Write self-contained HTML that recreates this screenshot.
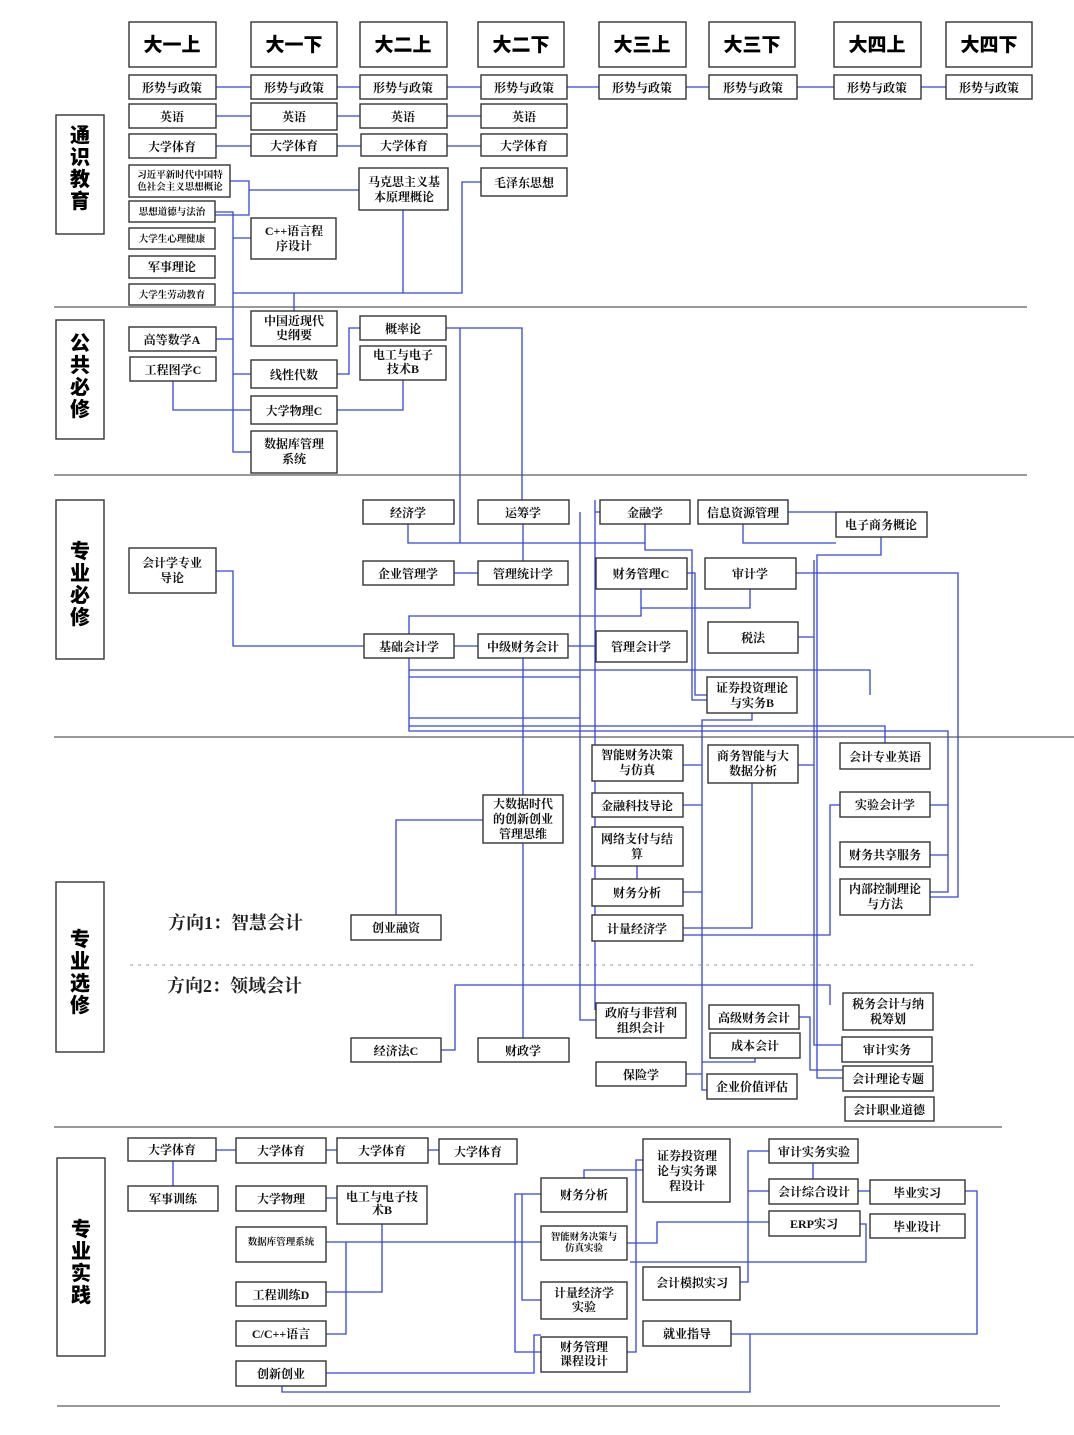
<!DOCTYPE html>
<html><head><meta charset="utf-8"><style>
html,body{margin:0;padding:0;background:#fff;}
svg{display:block}
.b{fill:#fff;stroke:#333;stroke-width:1.4}
.t{font-family:"Liberation Serif","Noto Serif CJK SC",serif;font-size:12px;font-weight:700;fill:#111;text-anchor:middle}
.s{font-size:9.5px}
.h{font-family:"Liberation Sans","Noto Sans CJK SC",sans-serif;font-size:19px;font-weight:900;fill:#000;text-anchor:middle}
.c{font-family:"Liberation Sans","Noto Sans CJK SC",sans-serif;font-size:20px;font-weight:900;fill:#000;text-anchor:middle}
.d{font-family:"Liberation Serif","Noto Serif CJK SC",serif;font-size:18px;font-weight:700;fill:#222}
.l{fill:none;stroke:#3344dd;stroke-width:1.3}
.g{stroke:#333;stroke-width:1}
</style></head><body>
<svg width="1074" height="1435" viewBox="0 0 1074 1435" xmlns="http://www.w3.org/2000/svg">
<line class="g" x1="54" y1="307" x2="1027" y2="307"/>
<line class="g" x1="54" y1="475" x2="1027" y2="475"/>
<line class="g" x1="54" y1="737" x2="1074" y2="737"/>
<line class="g" x1="54" y1="1127" x2="1002" y2="1127"/>
<line class="g" x1="57" y1="1406" x2="1000" y2="1406" stroke="#888" stroke-width="1.5"/>
<line x1="130" y1="965" x2="975" y2="965" stroke="#999" stroke-dasharray="3,5"/>

<g class="l">
<path d="M216 87H251M337 87H360M447 87H481M567 87H599M686 87H709M797 87H834M921 87H946"/>
<path d="M216 116H251M337 116H360M447 116H481"/>
<path d="M216 146H251M337 146H361M447 146H481"/>
<path d="M230 181H249V215H215M249 190H359"/>
<path d="M215 212H233V452H251M233 238H251M233 293H462V182H481M403 210V293M294 293V311"/>
<path d="M216 339H233M233 374H251M173 381V410H251M337 374H349V328H360M403 380V410H337"/>
<path d="M446 328H522V500M460 328V543M408 524V543H645V524M645 543V550H692V700H707"/>
<path d="M523 524V561M454 573H478M216 571H233V646H364M454 646H478M568 646H596"/>
<path d="M409 634V616H641V589M750 589V608H641M687 573H695V695H707"/>
<path d="M796 573H958V897H930M881 537V555H817V1078H843M788 512H836M743 524V543H836"/>
<path d="M409 658V731H948V892H930M948 805H930M948 855H930M409 670H870V695M409 677H580M409 726H885V743M409 718H580M523 658V795M523 843V1038M580 512V1020H596M595 500V1010M600 512H595"/>
<path d="M752 713V720H702V1090H707M814 560V1045H842M798 637H814M798 765H814M683 765H702M683 805H702M683 892H702M683 928H702M752 783V928H683"/>
<path d="M840 805H830V935H683M637 866V880M799 1017H810V1070H843M755 1058V1062H702M686 1074H702M595 985H830V1005M441 1050H455V985H595M396 915V820H483M523 985H595"/>
<path d="M216 1150H236M326 1150H337M428 1150H439M173 1161V1186M326 1198H337"/>
<path d="M326 1242H541M382 1224V1292H326M326 1334H346V1242"/>
<path d="M541 1194H515V1352H541M522 1194V1300H541M584 1178V1170H643V1160"/>
<path d="M627 1243H657V1222H769M740 1282H748V1151H769M748 1191H769M858 1191H870M965 1191H977V1334H731"/>
<path d="M750 1334V1392H282V1386M326 1373H534V1335H541M858 1224H866V1262H630M627 1352H636V1160H643M813 1163V1179"/>
</g>

<g>
<rect class="b" x="129" y="22" width="87" height="45"/><text class="h" x="172" y="51">大一上</text>
<rect class="b" x="251" y="22" width="86" height="45"/><text class="h" x="294" y="51">大一下</text>
<rect class="b" x="360" y="22" width="87" height="45"/><text class="h" x="403" y="51">大二上</text>
<rect class="b" x="478" y="22" width="86" height="45"/><text class="h" x="521" y="51">大二下</text>
<rect class="b" x="599" y="22" width="87" height="45"/><text class="h" x="642" y="51">大三上</text>
<rect class="b" x="709" y="22" width="86" height="45"/><text class="h" x="752" y="51">大三下</text>
<rect class="b" x="834" y="22" width="87" height="45"/><text class="h" x="877" y="51">大四上</text>
<rect class="b" x="946" y="22" width="86" height="45"/><text class="h" x="989" y="51">大四下</text>
</g>

<rect class="b" x="56" y="115" width="48" height="119"/><text class="c" x="80" y="142"><tspan x="80" dy="0">通</tspan><tspan x="80" dy="22">识</tspan><tspan x="80" dy="22">教</tspan><tspan x="80" dy="22">育</tspan></text>
<rect class="b" x="56" y="320" width="48" height="119"/><text class="c" x="80" y="350"><tspan x="80" dy="0">公</tspan><tspan x="80" dy="22">共</tspan><tspan x="80" dy="22">必</tspan><tspan x="80" dy="22">修</tspan></text>
<rect class="b" x="56" y="500" width="48" height="159"/><text class="c" x="80" y="558"><tspan x="80" dy="0">专</tspan><tspan x="80" dy="22">业</tspan><tspan x="80" dy="22">必</tspan><tspan x="80" dy="22">修</tspan></text>
<rect class="b" x="56" y="882" width="48" height="170"/><text class="c" x="80" y="946"><tspan x="80" dy="0">专</tspan><tspan x="80" dy="22">业</tspan><tspan x="80" dy="22">选</tspan><tspan x="80" dy="22">修</tspan></text>
<rect class="b" x="57" y="1158" width="48" height="198"/><text class="c" x="81" y="1236"><tspan x="81" dy="0">专</tspan><tspan x="81" dy="22">业</tspan><tspan x="81" dy="22">实</tspan><tspan x="81" dy="22">践</tspan></text>

<g>
<rect class="b" x="129" y="75" width="87" height="24"/><text class="t" x="172" y="92">形势与政策</text>
<rect class="b" x="251" y="75" width="86" height="24"/><text class="t" x="294" y="92">形势与政策</text>
<rect class="b" x="360" y="75" width="87" height="24"/><text class="t" x="403" y="92">形势与政策</text>
<rect class="b" x="481" y="75" width="86" height="24"/><text class="t" x="524" y="92">形势与政策</text>
<rect class="b" x="599" y="75" width="87" height="24"/><text class="t" x="642" y="92">形势与政策</text>
<rect class="b" x="709" y="75" width="88" height="24"/><text class="t" x="753" y="92">形势与政策</text>
<rect class="b" x="834" y="75" width="87" height="24"/><text class="t" x="877" y="92">形势与政策</text>
<rect class="b" x="946" y="75" width="86" height="24"/><text class="t" x="989" y="92">形势与政策</text>
<rect class="b" x="129" y="104" width="87" height="24"/><text class="t" x="172" y="121">英语</text>
<rect class="b" x="251" y="103" width="86" height="27"/><text class="t" x="294" y="121">英语</text>
<rect class="b" x="360" y="104" width="87" height="24"/><text class="t" x="403" y="121">英语</text>
<rect class="b" x="481" y="104" width="86" height="24"/><text class="t" x="524" y="121">英语</text>
<rect class="b" x="129" y="134" width="87" height="24"/><text class="t" x="172" y="151">大学体育</text>
<rect class="b" x="251" y="134" width="86" height="22"/><text class="t" x="294" y="150">大学体育</text>
<rect class="b" x="361" y="134" width="86" height="22"/><text class="t" x="404" y="150">大学体育</text>
<rect class="b" x="481" y="134" width="86" height="22"/><text class="t" x="524" y="150">大学体育</text>
<rect class="b" x="129" y="165" width="101" height="32"/><text class="t s" x="180" y="178"><tspan x="180">习近平新时代中国特</tspan><tspan x="180" dy="12">色社会主义思想概论</tspan></text>
<rect class="b" x="129" y="201" width="86" height="21"/><text class="t s" x="172" y="215">思想道德与法治</text>
<rect class="b" x="129" y="228" width="86" height="21"/><text class="t s" x="172" y="242">大学生心理健康</text>
<rect class="b" x="129" y="256" width="86" height="22"/><text class="t" x="172" y="271">军事理论</text>
<rect class="b" x="129" y="284" width="86" height="21"/><text class="t s" x="172" y="298">大学生劳动教育</text>
<rect class="b" x="251" y="218" width="85" height="41"/><text class="t" x="294" y="235"><tspan x="294">C++语言程</tspan><tspan x="294" dy="15">序设计</tspan></text>
<rect class="b" x="359" y="168" width="89" height="42"/><text class="t" x="404" y="186"><tspan x="404">马克思主义基</tspan><tspan x="404" dy="15">本原理概论</tspan></text>
<rect class="b" x="481" y="168" width="86" height="28"/><text class="t" x="524" y="187">毛泽东思想</text>
</g>

<g>
<rect class="b" x="129" y="327" width="87" height="24"/><text class="t" x="172" y="344">高等数学A</text>
<rect class="b" x="130" y="357" width="86" height="24"/><text class="t" x="173" y="374">工程图学C</text>
<rect class="b" x="251" y="311" width="86" height="35"/><text class="t" x="294" y="325"><tspan x="294">中国近现代</tspan><tspan x="294" dy="14">史纲要</tspan></text>
<rect class="b" x="251" y="360" width="86" height="28"/><text class="t" x="294" y="379">线性代数</text>
<rect class="b" x="251" y="396" width="86" height="28"/><text class="t" x="294" y="415">大学物理C</text>
<rect class="b" x="251" y="431" width="86" height="42"/><text class="t" x="294" y="448"><tspan x="294">数据库管理</tspan><tspan x="294" dy="15">系统</tspan></text>
<rect class="b" x="360" y="316" width="86" height="24"/><text class="t" x="403" y="333">概率论</text>
<rect class="b" x="360" y="346" width="86" height="34"/><text class="t" x="403" y="359"><tspan x="403">电工与电子</tspan><tspan x="403" dy="14">技术B</tspan></text>
</g>

<g>
<rect class="b" x="363" y="500" width="91" height="24"/><text class="t" x="408" y="517">经济学</text>
<rect class="b" x="478" y="500" width="91" height="24"/><text class="t" x="523" y="517">运筹学</text>
<rect class="b" x="600" y="500" width="90" height="24"/><text class="t" x="645" y="517">金融学</text>
<rect class="b" x="698" y="500" width="90" height="24"/><text class="t" x="743" y="517">信息资源管理</text>
<rect class="b" x="836" y="512" width="91" height="25"/><text class="t" x="881" y="529">电子商务概论</text>
<rect class="b" x="129" y="548" width="87" height="45"/><text class="t" x="172" y="567"><tspan x="172">会计学专业</tspan><tspan x="172" dy="15">导论</tspan></text>
<rect class="b" x="363" y="561" width="91" height="24"/><text class="t" x="408" y="578">企业管理学</text>
<rect class="b" x="478" y="561" width="90" height="24"/><text class="t" x="523" y="578">管理统计学</text>
<rect class="b" x="596" y="558" width="91" height="31"/><text class="t" x="641" y="578">财务管理C</text>
<rect class="b" x="705" y="558" width="91" height="31"/><text class="t" x="750" y="578">审计学</text>
<rect class="b" x="364" y="634" width="90" height="24"/><text class="t" x="409" y="651">基础会计学</text>
<rect class="b" x="478" y="634" width="90" height="24"/><text class="t" x="523" y="651">中级财务会计</text>
<rect class="b" x="596" y="631" width="91" height="31"/><text class="t" x="641" y="651">管理会计学</text>
<rect class="b" x="708" y="622" width="90" height="31"/><text class="t" x="753" y="642">税法</text>
<rect class="b" x="707" y="677" width="90" height="36"/><text class="t" x="752" y="692"><tspan x="752">证券投资理论</tspan><tspan x="752" dy="15">与实务B</tspan></text>
</g>

<g>
<text class="d" x="168" y="929">方向1：智慧会计</text>
<text class="d" x="167" y="992">方向2：领域会计</text>
<rect class="b" x="592" y="745" width="91" height="36"/><text class="t" x="637" y="759"><tspan x="637">智能财务决策</tspan><tspan x="637" dy="15">与仿真</tspan></text>
<rect class="b" x="708" y="745" width="90" height="38"/><text class="t" x="753" y="760"><tspan x="753">商务智能与大</tspan><tspan x="753" dy="15">数据分析</tspan></text>
<rect class="b" x="840" y="743" width="90" height="26"/><text class="t" x="885" y="761">会计专业英语</text>
<rect class="b" x="592" y="793" width="91" height="24"/><text class="t" x="637" y="810">金融科技导论</text>
<rect class="b" x="840" y="792" width="90" height="25"/><text class="t" x="885" y="809">实验会计学</text>
<rect class="b" x="483" y="795" width="80" height="48"/><text class="t" x="523" y="808"><tspan x="523">大数据时代</tspan><tspan x="523" dy="15">的创新创业</tspan><tspan x="523" dy="15">管理思维</tspan></text>
<rect class="b" x="592" y="827" width="91" height="39"/><text class="t" x="637" y="843"><tspan x="637">网络支付与结</tspan><tspan x="637" dy="15">算</tspan></text>
<rect class="b" x="840" y="842" width="90" height="25"/><text class="t" x="885" y="859">财务共享服务</text>
<rect class="b" x="592" y="879" width="91" height="27"/><text class="t" x="637" y="897">财务分析</text>
<rect class="b" x="840" y="879" width="90" height="36"/><text class="t" x="885" y="893"><tspan x="885">内部控制理论</tspan><tspan x="885" dy="15">与方法</tspan></text>
<rect class="b" x="592" y="915" width="91" height="26"/><text class="t" x="637" y="933">计量经济学</text>
<rect class="b" x="351" y="915" width="90" height="25"/><text class="t" x="396" y="932">创业融资</text>
<rect class="b" x="596" y="1003" width="90" height="35"/><text class="t" x="641" y="1017"><tspan x="641">政府与非营利</tspan><tspan x="641" dy="15">组织会计</tspan></text>
<rect class="b" x="709" y="1005" width="90" height="24"/><text class="t" x="754" y="1022">高级财务会计</text>
<rect class="b" x="843" y="993" width="90" height="37"/><text class="t" x="888" y="1008"><tspan x="888">税务会计与纳</tspan><tspan x="888" dy="15">税筹划</tspan></text>
<rect class="b" x="710" y="1033" width="90" height="25"/><text class="t" x="755" y="1050">成本会计</text>
<rect class="b" x="842" y="1037" width="90" height="25"/><text class="t" x="887" y="1054">审计实务</text>
<rect class="b" x="351" y="1038" width="90" height="24"/><text class="t" x="396" y="1055">经济法C</text>
<rect class="b" x="478" y="1038" width="91" height="24"/><text class="t" x="523" y="1055">财政学</text>
<rect class="b" x="596" y="1062" width="90" height="24"/><text class="t" x="641" y="1079">保险学</text>
<rect class="b" x="707" y="1074" width="90" height="25"/><text class="t" x="752" y="1091">企业价值评估</text>
<rect class="b" x="843" y="1066" width="90" height="25"/><text class="t" x="888" y="1083">会计理论专题</text>
<rect class="b" x="845" y="1097" width="89" height="24"/><text class="t" x="889" y="1114">会计职业道德</text>
</g>

<g>
<rect class="b" x="128" y="1138" width="88" height="23"/><text class="t" x="172" y="1154">大学体育</text>
<rect class="b" x="236" y="1138" width="90" height="25"/><text class="t" x="281" y="1155">大学体育</text>
<rect class="b" x="337" y="1138" width="91" height="25"/><text class="t" x="382" y="1155">大学体育</text>
<rect class="b" x="439" y="1139" width="78" height="25"/><text class="t" x="478" y="1156">大学体育</text>
<rect class="b" x="128" y="1186" width="90" height="25"/><text class="t" x="173" y="1203">军事训练</text>
<rect class="b" x="236" y="1186" width="90" height="25"/><text class="t" x="281" y="1203">大学物理</text>
<rect class="b" x="337" y="1186" width="90" height="38"/><text class="t" x="382" y="1201"><tspan x="382">电工与电子技</tspan><tspan x="382" dy="13">术B</tspan></text>
<rect class="b" x="236" y="1227" width="90" height="35"/><text class="t s" x="281" y="1245">数据库管理系统</text>
<rect class="b" x="236" y="1282" width="90" height="24"/><text class="t" x="281" y="1299">工程训练D</text>
<rect class="b" x="236" y="1321" width="90" height="25"/><text class="t" x="281" y="1338">C/C++语言</text>
<rect class="b" x="236" y="1361" width="90" height="25"/><text class="t" x="281" y="1378">创新创业</text>
<rect class="b" x="541" y="1178" width="86" height="34"/><text class="t" x="584" y="1199">财务分析</text>
<rect class="b" x="541" y="1226" width="86" height="34"/><text class="t s" x="584" y="1240"><tspan x="584">智能财务决策与</tspan><tspan x="584" dy="11">仿真实验</tspan></text>
<rect class="b" x="541" y="1282" width="86" height="37"/><text class="t" x="584" y="1297"><tspan x="584">计量经济学</tspan><tspan x="584" dy="14">实验</tspan></text>
<rect class="b" x="541" y="1337" width="86" height="35"/><text class="t" x="584" y="1351"><tspan x="584">财务管理</tspan><tspan x="584" dy="14">课程设计</tspan></text>
<rect class="b" x="643" y="1139" width="87" height="63"/><text class="t" x="687" y="1160"><tspan x="687">证券投资理</tspan><tspan x="687" dy="15">论与实务课</tspan><tspan x="687" dy="15">程设计</tspan></text>
<rect class="b" x="643" y="1267" width="97" height="33"/><text class="t" x="692" y="1287">会计模拟实习</text>
<rect class="b" x="643" y="1321" width="88" height="25"/><text class="t" x="687" y="1338">就业指导</text>
<rect class="b" x="769" y="1139" width="89" height="24"/><text class="t" x="814" y="1156">审计实务实验</text>
<rect class="b" x="769" y="1179" width="89" height="25"/><text class="t" x="814" y="1196">会计综合设计</text>
<rect class="b" x="769" y="1211" width="91" height="25"/><text class="t" x="814" y="1228">ERP实习</text>
<rect class="b" x="870" y="1180" width="95" height="24"/><text class="t" x="917" y="1197">毕业实习</text>
<rect class="b" x="870" y="1214" width="95" height="24"/><text class="t" x="917" y="1231">毕业设计</text>
</g>
</svg>
</body></html>
